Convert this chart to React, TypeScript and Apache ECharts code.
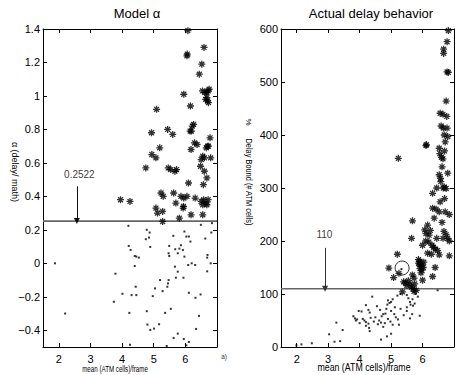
import React, { useEffect, useRef } from "react";
import * as echarts from "echarts";

// ---------- data ----------
const xRange = [1.5, 7];
const alphaRange = [-0.5, 1.4];
const delayRange = [0, 600];

const alphaThreshold = 0.2522;
const alphaArrow = { x: 2.57, from: 0.46, label: "0.2522", labelY: 0.53, labelX: 2.65 };
const delayThreshold = 110;
const delayArrow = { x: 2.9, from: 187, label: "110", labelY: 212, labelX: 2.88 };
const circledPoint: [number, number] = [5.35, 149];

// Model alpha: admitted (stars) and rejected (dots)
const alphaStars: [number, number][] = [
  [6.08, 1.39], [6.59, 1.29], [6.05, 1.24], [6.06, 1.25], [6.52, 1.19], [6.44, 1.13],
  [5.95, 1.01], [6.54, 1.03], [6.62, 1.02], [6.68, 1.02], [6.72, 1.03], [6.75, 1.04],
  [6.64, 0.98], [6.70, 0.97], [6.73, 0.96], [6.68, 0.99], [6.16, 0.94], [5.09, 0.92],
  [4.93, 0.78], [5.44, 0.80], [5.60, 0.77], [6.26, 0.83], [6.22, 0.82], [6.19, 0.79],
  [6.15, 0.79], [6.29, 0.72], [6.37, 0.71], [6.18, 0.68], [6.78, 0.75], [6.70, 0.70],
  [6.66, 0.69], [6.73, 0.70], [6.55, 0.64], [6.60, 0.63], [6.50, 0.62], [6.80, 0.63],
  [5.19, 0.69], [4.94, 0.65], [5.07, 0.63], [4.75, 0.57], [5.46, 0.57], [5.54, 0.56],
  [5.67, 0.55], [6.48, 0.58], [6.60, 0.55], [6.68, 0.51], [6.10, 0.48], [6.57, 0.47],
  [3.95, 0.38], [4.25, 0.37], [5.23, 0.42], [5.30, 0.40], [5.63, 0.42], [5.86, 0.40],
  [5.95, 0.39], [6.05, 0.40], [5.70, 0.36], [5.94, 0.34], [5.93, 0.33], [6.31, 0.39],
  [6.50, 0.37], [6.58, 0.38], [6.65, 0.36], [6.72, 0.38], [6.55, 0.35], [6.68, 0.35],
  [5.07, 0.33], [5.28, 0.31], [5.12, 0.30], [6.18, 0.29], [6.55, 0.29], [5.81, 0.27],
  [5.28, 0.25], [5.72, 0.56],
];
const alphaDots: [number, number][] = [
  [4.20, 0.224], [4.78, 0.20], [4.87, 0.184], [5.97, 0.19], [6.84, 0.24], [6.82, 0.184],
  [4.85, 0.154], [4.75, 0.144], [5.62, 0.164], [6.03, 0.16], [6.11, 0.16], [6.16, 0.13],
  [6.63, 0.148], [4.21, 0.104], [4.27, 0.08], [4.89, 0.098], [5.49, 0.104], [5.86, 0.108],
  [5.68, 0.084], [5.81, 0.088], [5.92, 0.08], [5.47, 0.06], [5.49, 0.044], [5.76, 0.06],
  [5.97, 0.04], [4.40, 0.044], [4.45, 0.04], [4.53, 0.034], [6.69, 0.034], [1.88, 0.0],
  [4.40, -0.016], [5.67, -0.02], [6.09, -0.01], [6.20, 0.0], [6.31, -0.01], [6.80, 0.0],
  [6.69, -0.048], [5.76, -0.05], [3.79, -0.062], [5.20, -0.10], [5.47, -0.10], [5.45, -0.12],
  [5.43, -0.14], [5.70, -0.086], [5.94, -0.086], [4.43, -0.14], [5.04, -0.15], [5.28, -0.166],
  [6.11, -0.176], [6.48, -0.186], [4.01, -0.182], [4.30, -0.19], [4.45, -0.19], [4.97, -0.196],
  [6.32, -0.206], [3.74, -0.23], [2.20, -0.30], [4.23, -0.296], [4.78, -0.286], [5.36, -0.296],
  [5.54, -0.272], [6.43, -0.314], [4.80, -0.366], [5.17, -0.364], [5.01, -0.39], [4.89, -0.398],
  [6.34, -0.392], [5.76, -0.42], [5.63, -0.446], [5.95, -0.452], [6.11, -0.47], [4.25, -0.486],
  [5.41, -0.494], [6.03, -0.49], [6.49, 0.23], [6.70, 0.05],
];

// Actual delay behaviour: violating (stars) and satisfied (dots)
const delayStars: [number, number][] = [
  [6.82, 597], [6.78, 576], [6.67, 562], [6.67, 554], [6.78, 519], [6.82, 518], [6.75, 464],
  [6.56, 441], [6.65, 439], [6.77, 435], [6.59, 417], [6.66, 413], [6.78, 413], [6.80, 397],
  [6.69, 400], [6.72, 387], [6.11, 380], [6.12, 382], [6.53, 375], [6.55, 365], [6.60, 358],
  [6.65, 355], [5.23, 356], [6.80, 328], [6.53, 325], [6.57, 318], [6.58, 312], [6.66, 300],
  [6.69, 302], [6.75, 299], [6.32, 290], [6.56, 274], [6.32, 262], [6.43, 260], [6.53, 255],
  [6.85, 250], [6.37, 243], [5.68, 238], [6.16, 230], [6.07, 221], [6.11, 214], [6.21, 211],
  [6.68, 218], [6.75, 212], [6.80, 205], [6.85, 200], [6.65, 205], [6.10, 200], [6.20, 198],
  [6.30, 192], [6.40, 185], [6.48, 182], [6.35, 188], [6.00, 192], [6.16, 177], [6.85, 172],
  [6.53, 174], [5.20, 175], [5.65, 205], [5.87, 165], [5.92, 162], [5.90, 155], [5.98, 155],
  [5.92, 148], [5.98, 145], [5.95, 140], [6.02, 150], [5.88, 158], [6.04, 160], [4.93, 149],
  [5.25, 139], [5.08, 131], [5.68, 136], [5.73, 130], [6.32, 133], [6.00, 126], [5.40, 123],
  [5.45, 121], [5.50, 116], [5.55, 125], [5.60, 118], [5.65, 113], [5.70, 110], [5.75, 119],
  [5.80, 107], [5.36, 104], [5.73, 105], [6.40, 150], [6.28, 175], [6.45, 205], [6.25, 220],
  [6.62, 235], [6.72, 255], [6.45, 300], [6.70, 280], [6.62, 340], [6.70, 370],
];
const delayDots: [number, number][] = [
  [4.40, 95], [4.90, 88], [4.95, 83], [4.88, 80], [5.00, 85], [5.05, 90], [5.20, 97],
  [5.30, 100], [5.50, 98], [5.55, 92], [5.60, 85], [5.68, 90], [5.62, 80], [5.75, 82],
  [5.70, 78], [4.20, 79], [4.55, 77], [3.97, 68], [4.06, 67], [4.28, 70], [4.32, 65],
  [4.65, 70], [4.75, 62], [4.70, 58], [4.82, 63], [4.85, 72], [5.00, 68], [5.10, 62],
  [5.15, 56], [5.22, 52], [5.50, 68], [5.67, 62], [3.80, 58], [3.85, 54], [3.88, 50],
  [3.92, 52], [4.10, 53], [4.15, 50], [4.20, 47], [4.28, 44], [4.50, 56], [4.62, 50],
  [4.68, 46], [4.58, 43], [4.90, 53], [4.98, 48], [5.05, 42], [5.25, 42], [5.60, 54],
  [5.91, 59], [4.30, 36], [4.32, 30], [4.00, 45], [3.26, 46], [3.46, 32], [3.03, 24],
  [3.38, 11], [3.20, 10], [4.68, 14], [4.87, 20], [2.48, 7], [2.15, 5], [1.99, 3],
  [5.00, 25], [4.45, 48], [4.75, 38], [5.40, 60], [5.50, 75], [5.78, 100], [5.85, 95],
  [6.48, 107], [5.33, 147], [4.20, 40], [4.35, 55], [4.80, 45], [5.12, 75], [5.30, 72],
];

const titles = ["Model α", "Actual delay behavior"];
const xName = "mean (ATM cells)/frame";
const alphaYName = "α (delay/ math)";
const delayYName = "Delay Bound (# ATM cells)";

// ---------- styling ----------
const FONT = "Liberation Sans, Arial, sans-serif";
const STAR = "path://M0,5L10,5M5,0L5,10M1.5,1.5L8.5,8.5M8.5,1.5L1.5,8.5";

function fmt(v: number) {
  const s = String(Number(v.toFixed(2)));
  return s.replace("-", "−");
}

function axis(extra: any) {
  return {
    type: "value",
    axisLine: { show: true, onZero: false, lineStyle: { color: "#000", width: 1 } },
    axisTick: { show: true, inside: true, length: 4, lineStyle: { color: "#000", width: 1 } },
    splitLine: { show: false },
    ...extra,
    axisLabel: {
      color: "#000",
      fontSize: 11,
      fontFamily: FONT,
      formatter: fmt,
      ...(extra.axisLabel || {}),
    },
  };
}

export default function App() {
  const ref = useRef<HTMLDivElement>(null);

  useEffect(() => {
    document.body.style.margin = "0";
    const chart = echarts.init(ref.current!, undefined, { renderer: "svg" });

    const xCommon = { min: xRange[0], max: xRange[1], minInterval: 1, maxInterval: 1, splitNumber: 5 };
    const starSeries = (data: [number, number][], xi: number, yi: number) => ({
      type: "scatter",
      xAxisIndex: xi,
      yAxisIndex: yi,
      data,
      symbol: STAR,
      symbolSize: 7,
      itemStyle: { color: "#000", borderColor: "#000", borderWidth: 1.3 },
      z: 3,
    });
    const dotSeries = (data: [number, number][], xi: number, yi: number) => ({
      type: "scatter",
      xAxisIndex: xi,
      yAxisIndex: yi,
      data,
      symbol: "rect",
      symbolSize: 2,
      itemStyle: { color: "#000" },
      z: 3,
    });
    const thresholdSeries = (
      value: number,
      arrow: { x: number; from: number; label: string; labelX: number; labelY: number },
      xi: number,
      yi: number,
      arrowColor: string
    ) => [
      {
        type: "line",
        xAxisIndex: xi,
        yAxisIndex: yi,
        data: [
          [xRange[0], value],
          [xRange[1], value],
        ],
        symbol: "none",
        lineStyle: { color: "#666", width: 1.6 },
        z: 2,
        markLine: {
          silent: true,
          symbol: ["none", "triangle"],
          symbolSize: 6,
          label: { show: false },
          lineStyle: { color: arrowColor, width: 1, type: "solid" },
          data: [[{ coord: [arrow.x, arrow.from] }, { coord: [arrow.x, value] }]],
        },
      },
      {
        type: "scatter",
        xAxisIndex: xi,
        yAxisIndex: yi,
        data: [[arrow.labelX, arrow.labelY]],
        symbolSize: 0,
        label: {
          show: true,
          position: "inside",
          formatter: arrow.label,
          color: "#000",
          fontSize: 10,
          fontFamily: FONT,
        },
      },
    ];

    chart.setOption({
      animation: false,
      backgroundColor: "#fff",
      grid: [
        { left: 43, top: 29, width: 174, height: 318, show: false },
        { left: 281, top: 29, width: 173, height: 318, show: false },
      ],
      xAxis: [
        axis({ gridIndex: 0, position: "bottom", ...xCommon, axisLabel: { showMinLabel: false, showMaxLabel: false, margin: 6 } }),
        axis({ gridIndex: 0, position: "top", ...xCommon, axisLabel: { show: false } }),
        axis({ gridIndex: 1, position: "bottom", ...xCommon, axisLabel: { showMinLabel: false, showMaxLabel: false, margin: 6 } }),
        axis({ gridIndex: 1, position: "top", ...xCommon, axisLabel: { show: false } }),
      ],
      yAxis: [
        axis({ gridIndex: 0, position: "left", min: alphaRange[0], max: alphaRange[1], minInterval: 0.2, maxInterval: 0.2, splitNumber: 9, axisLabel: { showMinLabel: false, margin: 3 } }),
        axis({ gridIndex: 0, position: "right", min: alphaRange[0], max: alphaRange[1], minInterval: 0.2, maxInterval: 0.2, splitNumber: 9, axisLabel: { show: false } }),
        axis({ gridIndex: 1, position: "left", min: delayRange[0], max: delayRange[1], interval: 100, axisLabel: { margin: 3 } }),
        axis({ gridIndex: 1, position: "right", min: delayRange[0], max: delayRange[1], interval: 100, axisLabel: { show: false } }),
      ],
      series: [
        dotSeries(alphaDots, 0, 0),
        starSeries(alphaStars, 0, 0),
        ...thresholdSeries(alphaThreshold, alphaArrow, 0, 0, "#111"),
        dotSeries(delayDots, 2, 2),
        starSeries(delayStars, 2, 2),
        ...thresholdSeries(delayThreshold, delayArrow, 2, 2, "#333"),
        {
          type: "scatter",
          xAxisIndex: 2,
          yAxisIndex: 2,
          data: [circledPoint],
          symbol: "circle",
          symbolSize: 14,
          itemStyle: { color: "rgba(0,0,0,0)", borderColor: "#000", borderWidth: 1 },
          z: 4,
        },
      ],
      graphic: [
        { type: "text", x: 137, y: 13, style: { text: titles[0], fontSize: 13, fontFamily: FONT, fill: "#000", align: "center", verticalAlign: "middle" } },
        { type: "text", x: 371, y: 13, style: { text: titles[1], fontSize: 13, fontFamily: FONT, fill: "#000", align: "center", verticalAlign: "middle" } },
        { type: "text", x: 115, y: 369, scaleX: 0.69, style: { text: xName, fontSize: 9, fontFamily: FONT, fill: "#000", align: "center", verticalAlign: "middle" } },
        { type: "text", x: 364, y: 367, scaleX: 0.88, style: { text: xName, fontSize: 10, fontFamily: FONT, fill: "#000", align: "center", verticalAlign: "middle" } },
        { type: "text", x: 15, y: 172, rotation: -Math.PI / 2, style: { text: alphaYName, fontSize: 9, fontFamily: FONT, fill: "#000", align: "center", verticalAlign: "middle" } },
        { type: "text", x: 249, y: 182, rotation: -Math.PI / 2, scaleX: 0.78, style: { text: delayYName, fontSize: 9.5, fontFamily: FONT, fill: "#000", align: "center", verticalAlign: "middle" } },
        { type: "text", x: 248, y: 122, rotation: -Math.PI / 2, style: { text: "%", fontSize: 8, fontFamily: FONT, fill: "#000", align: "center", verticalAlign: "middle" } },
        { type: "text", x: 224, y: 356, scaleX: 0.8, style: { text: "a)", fontSize: 8, fontFamily: FONT, fill: "#333", align: "center", verticalAlign: "middle" } },
      ],
    });

    return () => chart.dispose();
  }, []);

  return (
    <div
      ref={ref}
      style={{ position: "fixed", left: 0, top: 0, width: 458, height: 375, background: "#fff" }}
    />
  );
}
